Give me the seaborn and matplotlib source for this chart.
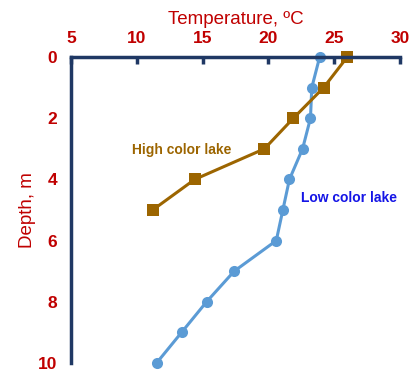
import numpy as np
import pandas as pd
import matplotlib
matplotlib.use("Agg")
import matplotlib.pyplot as plt
import seaborn as sns

# data
high_depth = [0, 1, 2, 3, 4, 5]
high_temp = [26.0, 24.2, 21.9, 19.7, 14.4, 11.2]
low_depth = [0, 1, 2, 3, 4, 5, 6, 7, 8, 9, 10]
low_temp = [23.9, 23.3, 23.2, 22.6, 21.6, 21.1, 20.6, 17.4, 15.3, 13.4, 11.5]
x_ticks = [5, 10, 15, 20, 25, 30]
y_ticks = [0, 2, 4, 6, 8, 10]

sns.set_style("white")
plt.rcParams["font.family"] = ["Liberation Sans", "DejaVu Sans"]

red = "#C00000"
navy = "#1F3864"
brown = "#9C6500"
blue = "#5B9BD5"

df_high = pd.DataFrame({"temp": high_temp, "depth": high_depth})
df_low = pd.DataFrame({"temp": low_temp, "depth": low_depth})

fig = plt.figure(figsize=(4.11, 3.75), dpi=100)
ax = fig.add_axes([0.173, 0.032, 0.800, 0.816])

sns.lineplot(data=df_low, x="temp", y="depth", sort=False, ax=ax, color=blue,
             lw=2.2, marker="o", markersize=8, markeredgewidth=0, clip_on=False)
sns.lineplot(data=df_high, x="temp", y="depth", sort=False, ax=ax, color=brown,
             lw=2.2, marker="s", markersize=8, markeredgewidth=0, clip_on=False)

ax.set_xlim(5, 30)
ax.set_ylim(10, 0)
ax.set_xticks(x_ticks)
ax.set_yticks(y_ticks)
ax.xaxis.tick_top()
ax.xaxis.set_label_position("top")

for s in ["right", "bottom"]:
    ax.spines[s].set_visible(False)
for s in ["top", "left"]:
    ax.spines[s].set_color(navy)
    ax.spines[s].set_linewidth(2.5)

ax.tick_params(axis="x", direction="in", length=5, width=2.5, color=navy,
               labelsize=12.5, labelcolor=red, pad=8)
ax.tick_params(axis="y", direction="in", length=5, width=2.5, color=navy,
               labelsize=12.5, labelcolor=red, pad=10)
for lab in ax.get_xticklabels() + ax.get_yticklabels():
    lab.set_fontweight("bold")

ax.set_xlabel("Temperature, ºC", color=red, fontsize=13.5, labelpad=5)
ax.set_ylabel("Depth, m", color=red, fontsize=13.5, labelpad=1)

ax.text(9.6, 3.05, "High color lake", color=brown, fontsize=10,
        fontweight="bold", va="center", ha="left")
ax.text(22.5, 4.6, "Low color lake", color="#1515E6", fontsize=10,
        fontweight="bold", va="center", ha="left")

fig.savefig("out.png", dpi=100)
